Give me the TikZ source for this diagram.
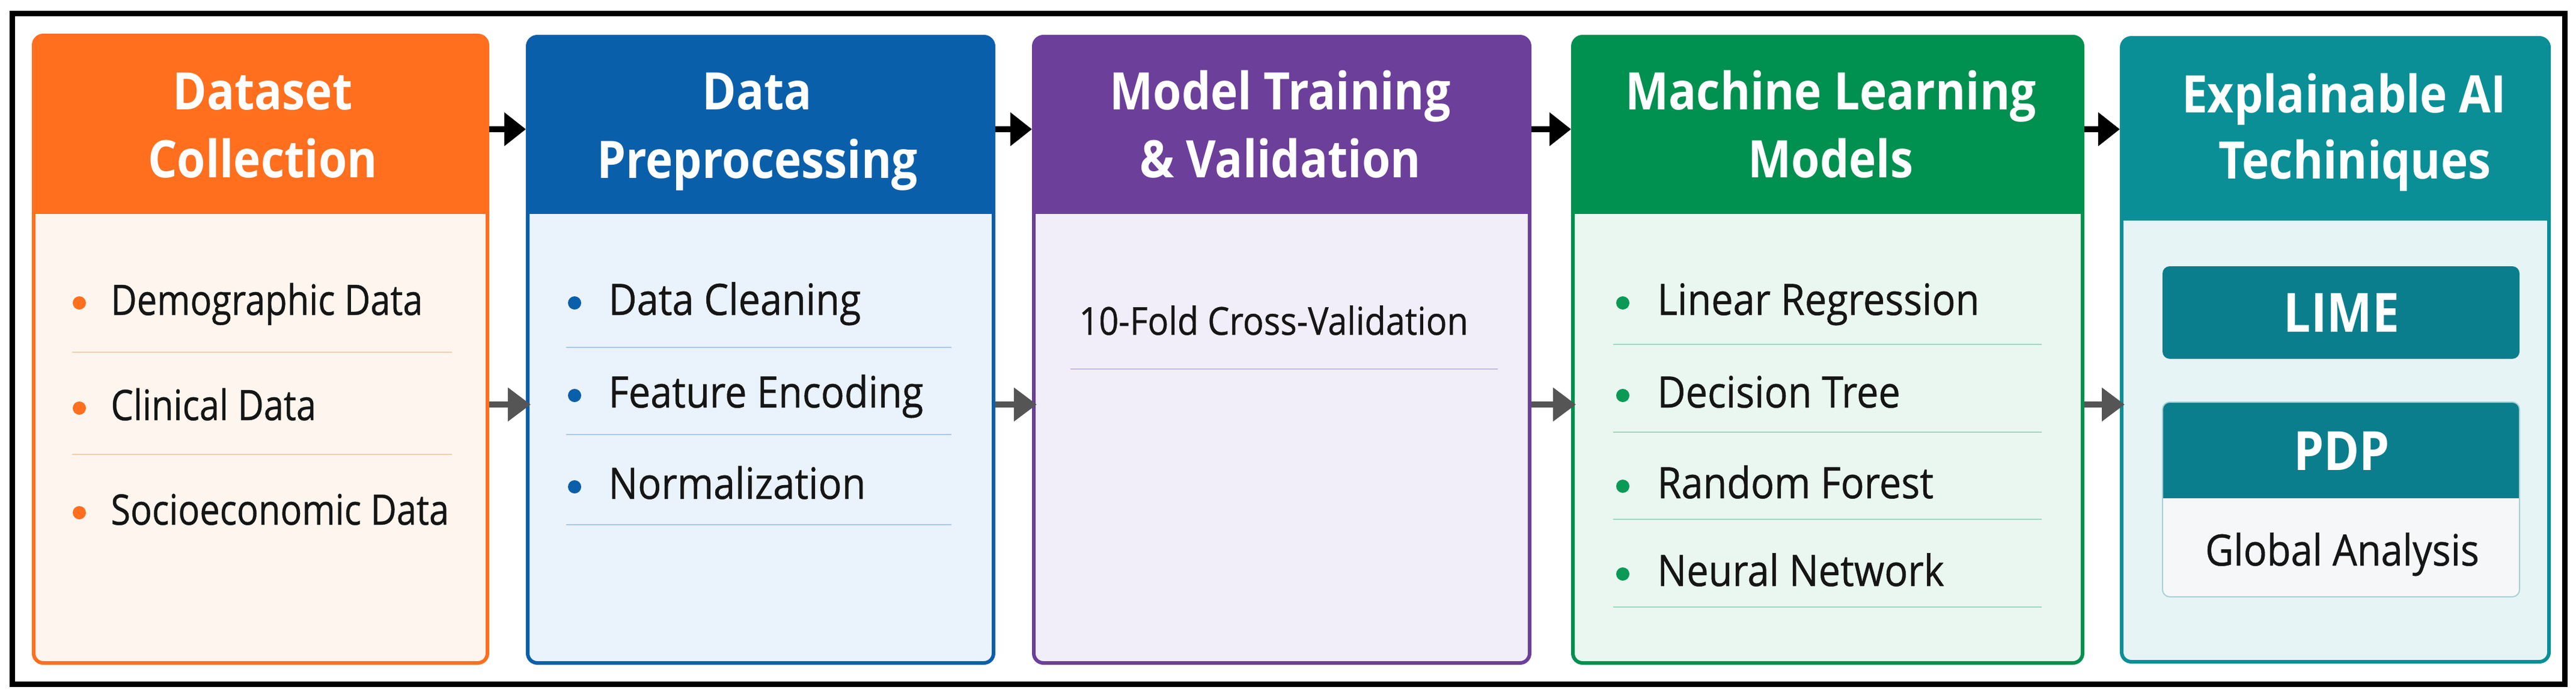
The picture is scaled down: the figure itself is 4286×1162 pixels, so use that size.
\documentclass[tikz,border=0pt]{standalone}
\usepackage{fontspec}
\usetikzlibrary{arrows.meta,fit}
\newfontfamily\ttlfont[FakeStretch=0.89]{Open Sans}
\newfontfamily\bodyfont[FakeStretch=0.90,FakeBold=0.6]{Open Sans}
\newfontfamily\orgfont[FakeStretch=0.85,FakeBold=0.6]{Open Sans}
\definecolor{orH}{HTML}{FF6F1E}
\definecolor{orB}{HTML}{FEF6EE}
\definecolor{orS}{HTML}{FFC9A8}
\definecolor{blH}{HTML}{0A5FAB}
\definecolor{blB}{HTML}{EAF2FC}
\definecolor{blS}{HTML}{A9C8EC}
\definecolor{puH}{HTML}{6C3F9A}
\definecolor{puB}{HTML}{F1EDF9}
\definecolor{puS}{HTML}{C9B9E4}
\definecolor{grH}{HTML}{00904F}
\definecolor{grB}{HTML}{E9F7F0}
\definecolor{grS}{HTML}{9FD9BD}
\definecolor{grD}{HTML}{0A9A55}
\definecolor{teH}{HTML}{0A8F96}
\definecolor{teB}{HTML}{E7F4F6}
\definecolor{teD}{HTML}{0A7E8C}
\definecolor{teL}{HTML}{F5F7F8}
\definecolor{teS}{HTML}{A8D0D6}
\definecolor{txt}{HTML}{151515}
\definecolor{arG}{HTML}{555555}
\newcommand\stagebox[8]{%
  \begin{scope}
    \clip[rounded corners=8pt] (#2,#4) rectangle (#3,#6);
    \fill[#7] (#2,#4) rectangle (#3,#5);
    \fill[#8] (#2,#5) rectangle (#3,#6);
  \end{scope}
  \node[fit={(#2,#4) (#3,#6)}, inner sep=0pt, draw=#7, line width=3pt, rounded corners=8pt] (#1) {};
  \node[fit={(#2,#4) (#3,#5)}, inner sep=0pt] (#1h) {};
}
\newcommand\bitem[7]{%
  \fill[#2] (#3,#5-20) circle[radius=5.5pt];
  \node[#7, anchor=base west] (#1) at (#4,#5) {#6};
}
\newcommand\sepline[4]{\draw[#1, line width=1.4pt] (#2,#4) -- (#3,#4);}
\begin{document}
\begin{tikzpicture}[x=0.5pt,y=-0.5pt,
  ttl/.style={font=\ttlfont\bfseries\fontsize{43}{50}\selectfont, text=white, inner sep=0pt, anchor=base},
  bodytxt/.style={font=\bodyfont\fontsize{36}{42}\selectfont, text=txt, inner sep=0pt},
  orgtxt/.style={font=\orgfont\fontsize{35}{42}\selectfont, text=txt, inner sep=0pt},
  putxt/.style={font=\bodyfont\fontsize{32}{40}\selectfont, text=txt, inner sep=0pt},
  arrblack/.style={line width=5pt, black, -{Triangle[length=18pt,width=27pt]}},
  arrgrey/.style={line width=5pt, arG, -{Triangle[length=19pt,width=27pt]}}]
\useasboundingbox (0,0) rectangle (4286,1162);
\fill[white] (0,0) rectangle (4286,1162);
\draw[line width=4.5pt] (20,22) rectangle (4267,1138);

% stages
\stagebox{s1}{56}{811}{59}{356}{1103}{orH}{orB}
\stagebox{s2}{878}{1653}{61}{356}{1103}{blH}{blB}
\stagebox{s3}{1720}{2545}{61}{356}{1103}{puH}{puB}
\stagebox{s4}{2617}{3465}{61}{356}{1103}{grH}{grB}
\stagebox{s5}{3530}{4241}{63}{367}{1101}{teH}{teB}

% titles
\node[ttl] (t1a) at (437,182) {Dataset};
\node[ttl] (t1b) at (437,295) {Collection};
\node[ttl] (t2a) at (1260,182) {Data};
\node[ttl] (t2b) at (1260,296) {Preprocessing};
\node[ttl] (t3a) at (2130,182) {Model Training};
\node[ttl] (t3b) at (2130,295) {\& Validation};
\node[ttl] (t4a) at (3046,182) {Machine Learning};
\node[ttl] (t4b) at (3046,295) {Models};
\node[ttl] (t5a) at (3900,187) {Explainable AI};
\node[ttl] (t5b) at (3918,297) {Techiniques};

% orange items
\bitem{o1}{orH}{132}{184}{524}{Demographic Data}{orgtxt}
\bitem{o2}{orH}{132}{184}{699}{Clinical Data}{orgtxt}
\bitem{o3}{orH}{132}{184}{873}{Socioeconomic Data}{orgtxt}
\sepline{orS}{120}{752}{586}
\sepline{orS}{120}{752}{756}

% blue items
\bitem{b1}{blH}{956}{1012}{524}{Data Cleaning}{bodytxt}
\bitem{b2}{blH}{956}{1012}{678}{Feature Encoding}{bodytxt}
\bitem{b3}{blH}{956}{1012}{830}{Normalization}{bodytxt}
\sepline{blS}{942}{1583}{578}
\sepline{blS}{942}{1583}{723}
\sepline{blS}{942}{1583}{873}

% purple item
\node[putxt, anchor=base west] (p1) at (1795,557) {10-Fold Cross-Validation};
\sepline{puS}{1781}{2492}{614}

% green items
\bitem{g1}{grD}{2700}{2757}{524}{Linear Regression}{bodytxt}
\bitem{g2}{grD}{2700}{2757}{678}{Decision Tree}{bodytxt}
\bitem{g3}{grD}{2700}{2757}{829}{Random Forest}{bodytxt}
\bitem{g4}{grD}{2700}{2757}{975}{Neural Network}{bodytxt}
\sepline{grS}{2684}{3397}{573}
\sepline{grS}{2684}{3397}{719}
\sepline{grS}{2684}{3397}{864}
\sepline{grS}{2684}{3397}{1010}

% teal inner boxes
\node[fit={(3598,443) (4192,597)}, inner sep=0pt, fill=teD, rounded corners=6pt] (lime) {};
\node[ttl, font=\ttlfont\bfseries\fontsize{45}{50}\selectfont] (limet) at (3896,552) {LIME};
\begin{scope}
  \clip[rounded corners=6pt] (3598,669) rectangle (4192,993);
  \fill[teD] (3598,669) rectangle (4192,829);
  \fill[teL] (3598,829) rectangle (4192,993);
\end{scope}
\node[fit={(3598,669) (4192,993)}, inner sep=0pt, draw=teS, line width=1pt, rounded corners=6pt] (pdp) {};
\node[ttl, font=\ttlfont\bfseries\fontsize{45}{50}\selectfont] (pdpt) at (3896,782) {PDP};
\node[bodytxt, anchor=base] (glob) at (3897,941) {Global Analysis};

% connectors
\coordinate (topY) at (0,215);
\coordinate (lowY) at (0,673);
\draw[arrblack] (s1.east |- topY) -- (s2.west |- topY);
\draw[arrblack] (s2.east |- topY) -- (s3.west |- topY);
\draw[arrblack] (s3.east |- topY) -- (s4.west |- topY);
\draw[arrblack] (s4.east |- topY) -- (s5.west |- topY);
\draw[arrgrey] (s1.east |- lowY) -- ([xshift=4pt]s2.west |- lowY);
\draw[arrgrey] (s2.east |- lowY) -- ([xshift=4pt]s3.west |- lowY);
\draw[arrgrey] (s3.east |- lowY) -- ([xshift=4pt]s4.west |- lowY);
\draw[arrgrey] (s4.east |- lowY) -- ([xshift=4pt]s5.west |- lowY);
\end{tikzpicture}
\end{document}
